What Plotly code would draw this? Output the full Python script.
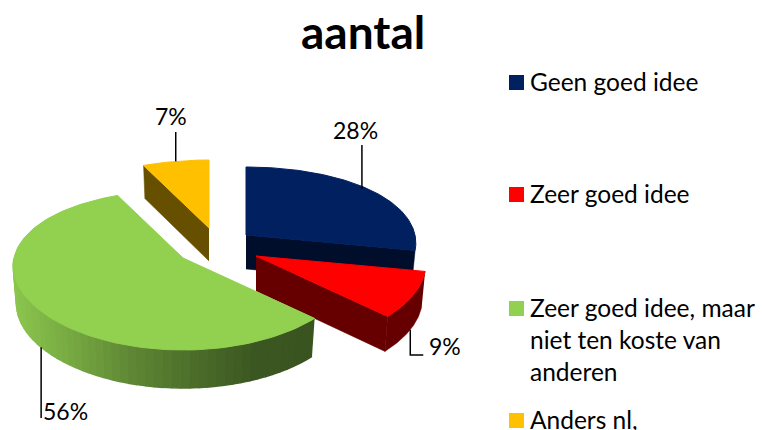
import numpy as np
import plotly.graph_objects as go

categories = ["Geen goed idee", "Zeer goed idee", "Zeer goed idee, maar", "Anders nl,"]
legend_labels = ["Geen goed idee", "Zeer goed idee", "Zeer goed idee, maar<br>niet ten koste van<br>anderen", "Anders nl,"]
values = [28, 9, 56, 7]
pct_labels = ["28%", "9%", "56%", "7%"]
top_colors = ["#002060", "#ff0000", "#92d050", "#ffc000"]
side_colors = ["#000d2b", "#660000", None, "#665000"]

# projection / layout (pixels of the 763x430 canvas)
centers = [(246, 235), (256, 256), (183, 258), (209, 228)]
depths = [34, 35, 38, 33]
RX = 169
BLACK = "#000000"
FONT = "Lato"

def project(theta, c, z=0.0):
    u, v = np.sin(theta), np.cos(theta)
    shrink = 1 - 0.02 * (z > 0)
    x = c[0] + RX * u * (1 - 0.10 * v) * shrink
    y = c[1] - 80 * v + 12 * v ** 2 + z
    return x, y

total = sum(values)
edges = np.radians(np.concatenate([[0], np.cumsum(values)]) * 360.0 / total)

fig = go.Figure()

def poly(xs, ys, color, width=0.5):
    fig.add_trace(go.Scatter(x=xs, y=ys, mode="lines", fill="toself", fillcolor=color,
                             line=dict(color=color, width=width), hoverinfo="skip",
                             showlegend=False))

def lerp(cols, t):
    cols = np.array(cols, float)
    p = t * (len(cols) - 1)
    i = min(int(p), len(cols) - 2)
    r = cols[i] + (cols[i + 1] - cols[i]) * (p - i)
    return "rgb(%d,%d,%d)" % tuple(r)

GREEN_RAMP = [(140, 198, 78), (118, 168, 66), (94, 134, 52), (76, 110, 42), (60, 88, 34), (58, 84, 32)]

def draw_slice(i):
    c, d = centers[i], depths[i]
    a0, a1 = edges[i], edges[i + 1]
    t = np.linspace(a0, a1, 120)
    tx, ty = project(t, c)
    bx, by = project(t, c, d)
    if i == 0:      # blue: lower cut face seen from the front
        ex, ey = project(a1, c)
        ex2, ey2 = project(a1, c, d)
        poly([c[0], ex, ex2, c[0]], [c[1], ey, ey2, c[1] + d], side_colors[i])
    elif i == 3:    # yellow: left cut face
        ex, ey = project(a0, c)
        ex2, ey2 = project(a0, c, d)
        poly([c[0], ex, ex2, c[0]], [c[1], ey, ey2, c[1] + d], side_colors[i])
    elif i == 1:    # red: left cut face and rim
        ex, ey = project(a1, c)
        ex2, ey2 = project(a1, c, d)
        poly([c[0], ex, ex2, c[0]], [c[1], ey, ey2, c[1] + d], side_colors[i])
        poly(np.r_[tx, bx[::-1]], np.r_[ty, by[::-1]], side_colors[i])
    elif i == 2:    # green: rim with a horizontal gradient
        front = np.linspace(a0, np.radians(270), 50)
        for k in range(len(front) - 1):
            seg = np.linspace(front[k], front[k + 1], 4)
            sx, sy = project(seg, c)
            qx, qy = project(seg, c, d)
            frac = (sx.mean() - 13) / (314 - 13)
            col = lerp(GREEN_RAMP, float(np.clip(frac, 0, 1)))
            poly(np.r_[sx, qx[::-1]], np.r_[sy, qy[::-1]], col, width=1.5)
    poly(np.r_[c[0], tx, c[0]], np.r_[c[1], ty, c[1]], top_colors[i], width=1)

for i in [3, 0, 1, 2]:
    draw_slice(i)

# leader lines, anchored on the mid-angle of each slice
mids = (edges[:-1] + edges[1:]) / 2
annotations = []
text_font = dict(family=FONT, size=23, color=BLACK)
legend_font = dict(family=FONT, size=24.5, color=BLACK)

def leader(xs, ys):
    fig.add_trace(go.Scatter(x=xs, y=ys, mode="lines", line=dict(color=BLACK, width=1.5),
                             hoverinfo="skip", showlegend=False))

px, py = project(mids[0], centers[0])
px -= 6
leader([px, px], [py, 145])
annotations.append(dict(x=355, y=130, text=pct_labels[0]))
px, py = project(mids[1], centers[1], depths[1])
leader([px, px, px + 13], [py, 355, 355])
annotations.append(dict(x=445, y=346, text=pct_labels[1]))
px, py = project(mids[2], centers[2], depths[2])
leader([px, px, px], [py, 418, 418])
annotations.append(dict(x=65, y=411, text=pct_labels[2]))
px, py = project(mids[3], centers[3])
leader([px, px], [py, 132])
annotations.append(dict(x=171, y=116, text=pct_labels[3]))

anns = [dict(a, xref="x", yref="y", showarrow=False, font=text_font, xanchor="center", yanchor="middle")
        for a in annotations]

# legend
legend_y = [75, 187, 301, 413]
shapes = []
for lab, col, y0 in zip(legend_labels, top_colors, legend_y):
    shapes.append(dict(type="rect", xref="x", yref="y", x0=509, x1=524, y0=y0, y1=y0 + 15,
                       fillcolor=col, line=dict(width=0)))
    anns.append(dict(x=528, y=y0 - 10, xref="x", yref="y", text=lab, showarrow=False, font=legend_font,
                     xanchor="left", yanchor="top", align="left"))

anns.append(dict(x=363, y=31, xref="x", yref="y", text="<b>aantal</b>", showarrow=False,
                 font=dict(family=FONT, size=46, color=BLACK), xanchor="center", yanchor="middle"))

fig.update_layout(
    width=763, height=430, margin=dict(l=0, r=0, t=0, b=0),
    paper_bgcolor="white", plot_bgcolor="white", showlegend=False,
    xaxis=dict(range=[0, 763], visible=False, fixedrange=True),
    yaxis=dict(range=[430, 0], visible=False, fixedrange=True),
    annotations=anns, shapes=shapes,
)
fig.write_html("out.html", config=dict(displayModeBar=False),
               post_script="document.body.style.margin='0';document.body.style.overflow='hidden';")
